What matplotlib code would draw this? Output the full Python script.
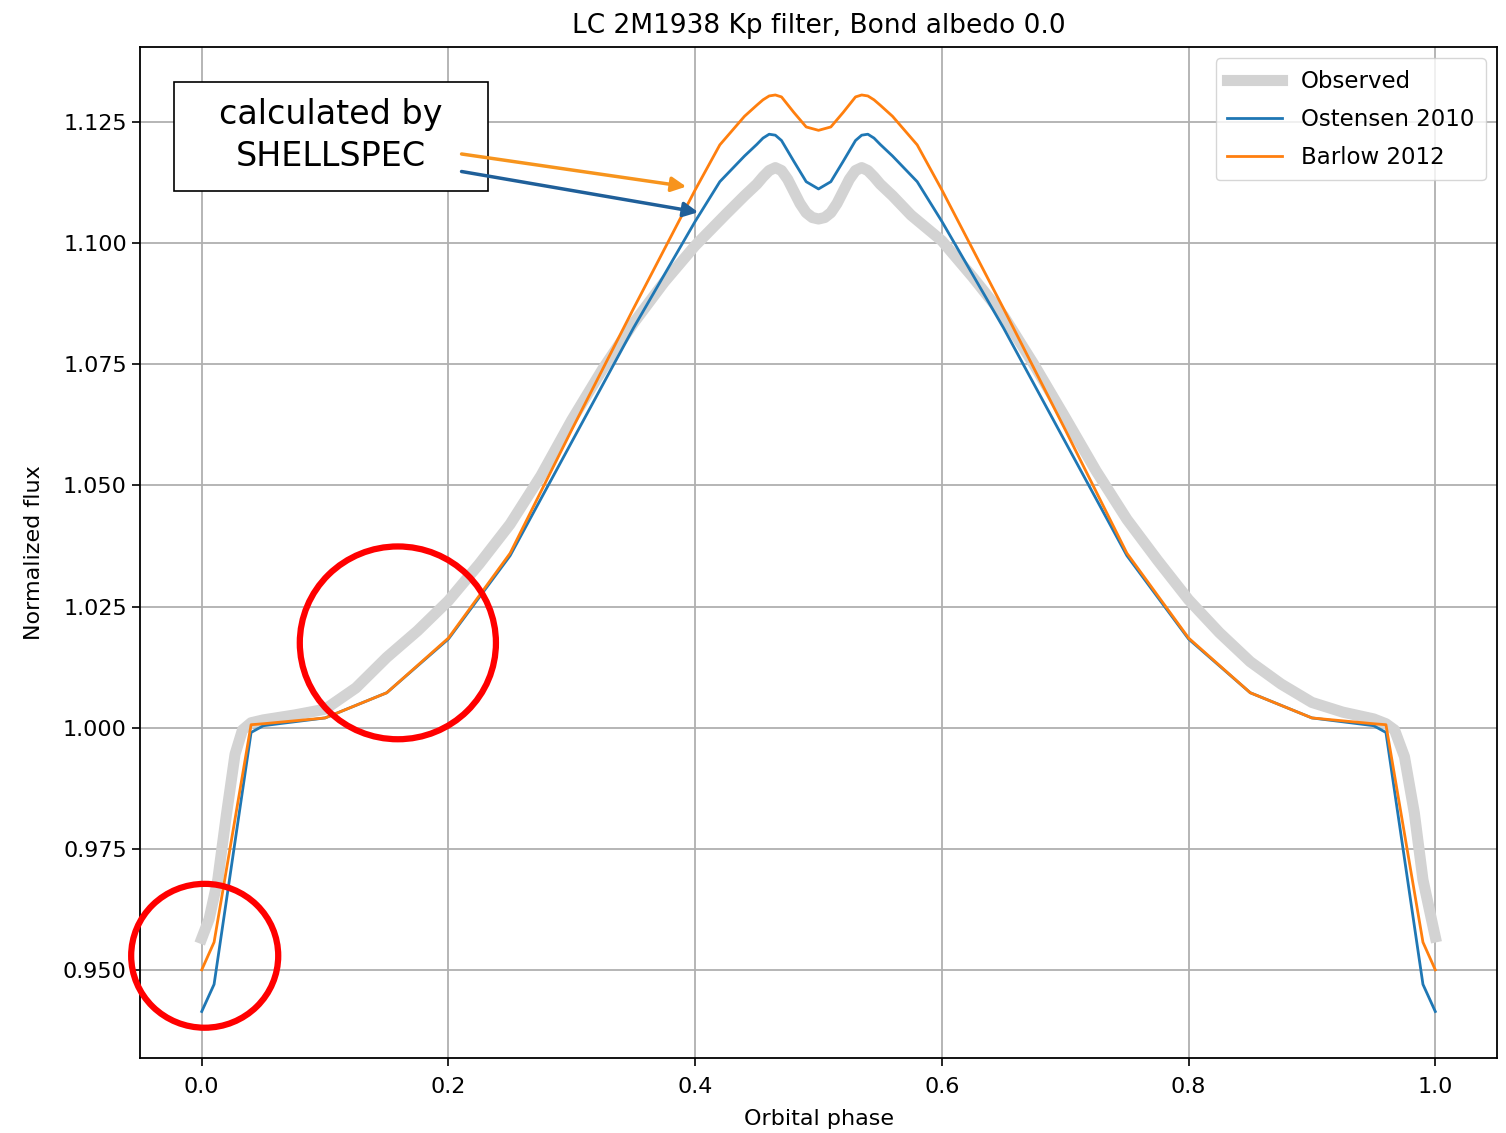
import matplotlib
matplotlib.use('Agg')
import matplotlib.pyplot as plt
from matplotlib.patches import Ellipse, Rectangle
import numpy as np


# Observert lyskurve (glatt, mange punkter)
fase_obs = [0.0, 0.006, 0.013, 0.02, 0.027, 0.033, 0.04, 0.05, 0.075, 0.1,
            0.125, 0.15, 0.175, 0.2, 0.225, 0.25, 0.275, 0.3, 0.325, 0.35,
            0.375, 0.4, 0.425, 0.44, 0.45, 0.455, 0.46, 0.465, 0.47, 0.475, 0.48,
            0.485, 0.49, 0.495, 0.5, 0.505, 0.51, 0.515, 0.52, 0.525, 0.53,
            0.535, 0.54, 0.545, 0.55, 0.56, 0.575, 0.6, 0.625, 0.65, 0.675, 0.7,
            0.725, 0.75, 0.775, 0.8, 0.825, 0.85, 0.875, 0.9, 0.925, 0.95,
            0.96, 0.967, 0.975, 0.983, 0.99, 0.997, 1.0]
flux_obs = [0.9565, 0.9605, 0.9686, 0.9820, 0.9945, 0.9995, 1.0010, 1.0016, 1.0026, 1.0038,
            1.0082, 1.0145, 1.0200, 1.0262, 1.0338, 1.0420, 1.0520, 1.0635, 1.0740, 1.0835,
            1.0920, 1.0995, 1.1060, 1.1098, 1.1122, 1.1137, 1.1150, 1.1156, 1.1150, 1.1132, 1.1107,
            1.1082, 1.1063, 1.1053, 1.1050, 1.1053, 1.1063, 1.1082, 1.1107, 1.1132, 1.1150,
            1.1156, 1.1150, 1.1137, 1.1122, 1.1098, 1.1058, 1.1005, 1.0930, 1.0850, 1.0748, 1.0640,
            1.0530, 1.0430, 1.0345, 1.0264, 1.0196, 1.0136, 1.0090, 1.0052, 1.0032, 1.0018,
            1.0008, 0.9995, 0.9940, 0.9824, 0.9686, 0.9603, 0.9568]

# Modellkurver beregnet med SHELLSPEC
fase_mod = [0.0, 0.01, 0.04, 0.05, 0.1, 0.15, 0.2, 0.25, 0.3, 0.35, 0.4,
            0.42, 0.44, 0.45, 0.455, 0.46, 0.465, 0.47, 0.48, 0.49, 0.5,
            0.51, 0.52, 0.53, 0.535, 0.54, 0.545, 0.55, 0.56, 0.58, 0.6,
            0.65, 0.7, 0.75, 0.8, 0.85, 0.9, 0.95, 0.96, 0.99, 1.0]
flux_ostensen = [0.9414, 0.9470, 0.9990, 1.0004, 1.0020, 1.0072, 1.0183, 1.0355, 1.0590, 1.0825, 1.1045,
                 1.1127, 1.1180, 1.1204, 1.1217, 1.1225, 1.1223, 1.1212, 1.1169, 1.1127, 1.1112,
                 1.1127, 1.1169, 1.1212, 1.1223, 1.1225, 1.1217, 1.1204, 1.1180, 1.1127, 1.1045,
                 1.0825, 1.0590, 1.0355, 1.0183, 1.0072, 1.0020, 1.0004, 0.9990, 0.9470, 0.9414]
flux_barlow = [0.9500, 0.9557, 1.0006, 1.0008, 1.0020, 1.0072, 1.0185, 1.0360, 1.0615, 1.0865, 1.1110,
               1.1203, 1.1262, 1.1285, 1.1296, 1.1304, 1.1306, 1.1302, 1.1270, 1.1240, 1.1233,
               1.1240, 1.1270, 1.1302, 1.1306, 1.1304, 1.1296, 1.1285, 1.1262, 1.1203, 1.1110,
               1.0865, 1.0615, 1.0360, 1.0185, 1.0072, 1.0020, 1.0008, 1.0006, 0.9557, 0.9500]


fig = plt.figure(figsize=(15.06, 11.33), dpi=100)
ax = fig.add_axes([0.093, 0.0662, 0.901, 0.8923])

ax.plot(fase_obs, flux_obs, color='lightgray', lw=8, label='Observed', zorder=2,
        solid_joinstyle='round')
ax.plot(fase_mod, flux_ostensen, color='C0', lw=2, label='Ostensen 2010', zorder=3)
ax.plot(fase_mod, flux_barlow, color='C1', lw=2, label='Barlow 2012', zorder=3)

ax.set_xlim(-0.05, 1.05)
ax.set_ylim(0.9318, 1.1405)
ax.set_xticks([0.0, 0.2, 0.4, 0.6, 0.8, 1.0])
ax.set_yticks([0.950, 0.975, 1.000, 1.025, 1.050, 1.075, 1.100, 1.125])
ax.yaxis.set_major_formatter(matplotlib.ticker.FormatStrFormatter('%.3f'))
ax.tick_params(labelsize=16, length=6, width=1.2)
ax.tick_params(axis='x', pad=8)
for s in ax.spines.values():
    s.set_linewidth(1.3)
ax.grid(True, color='#b0b0b0', lw=1.3)

ax.set_title('LC 2M1938 Kp filter, Bond albedo 0.0', fontsize=19, pad=10)
ax.set_xlabel('Orbital phase', fontsize=16, labelpad=8)
ax.set_ylabel('Normalized flux', fontsize=16, labelpad=14)
ax.legend(loc='upper right', fontsize=16.5, handlelength=2.4, borderpad=0.5,
          labelspacing=0.65)

# Tekstboks med piler
ax.add_patch(Rectangle((-0.0227, 1.1108), 0.2547, 0.0225, facecolor='white',
                       edgecolor='black', lw=1.2, zorder=5))
ax.text(0.1046, 1.1222, 'calculated by\nSHELLSPEC', ha='center', va='center',
        fontsize=24, linespacing=1.35, zorder=6)
ax.annotate('', xy=(0.395, 1.1116), xytext=(0.2084, 1.1185),
            arrowprops=dict(arrowstyle='-|>', color='#f7941d', lw=2.5, mutation_scale=22),
            zorder=6)
ax.annotate('', xy=(0.4047, 1.1063), xytext=(0.2084, 1.1149),
            arrowprops=dict(arrowstyle='-|>', color='#1f5f99', lw=2.5, mutation_scale=22),
            zorder=6)

# Røde sirkler
ax.add_patch(Ellipse((0.159, 1.0175), 0.159, 0.0398, fill=False, edgecolor='red',
                     lw=4.5, zorder=7, clip_on=False))
ax.add_patch(Ellipse((0.0024, 0.9529), 0.1192, 0.0297, fill=False, edgecolor='red',
                     lw=4.5, zorder=7, clip_on=False))

plt.savefig('out.png', dpi=100)
